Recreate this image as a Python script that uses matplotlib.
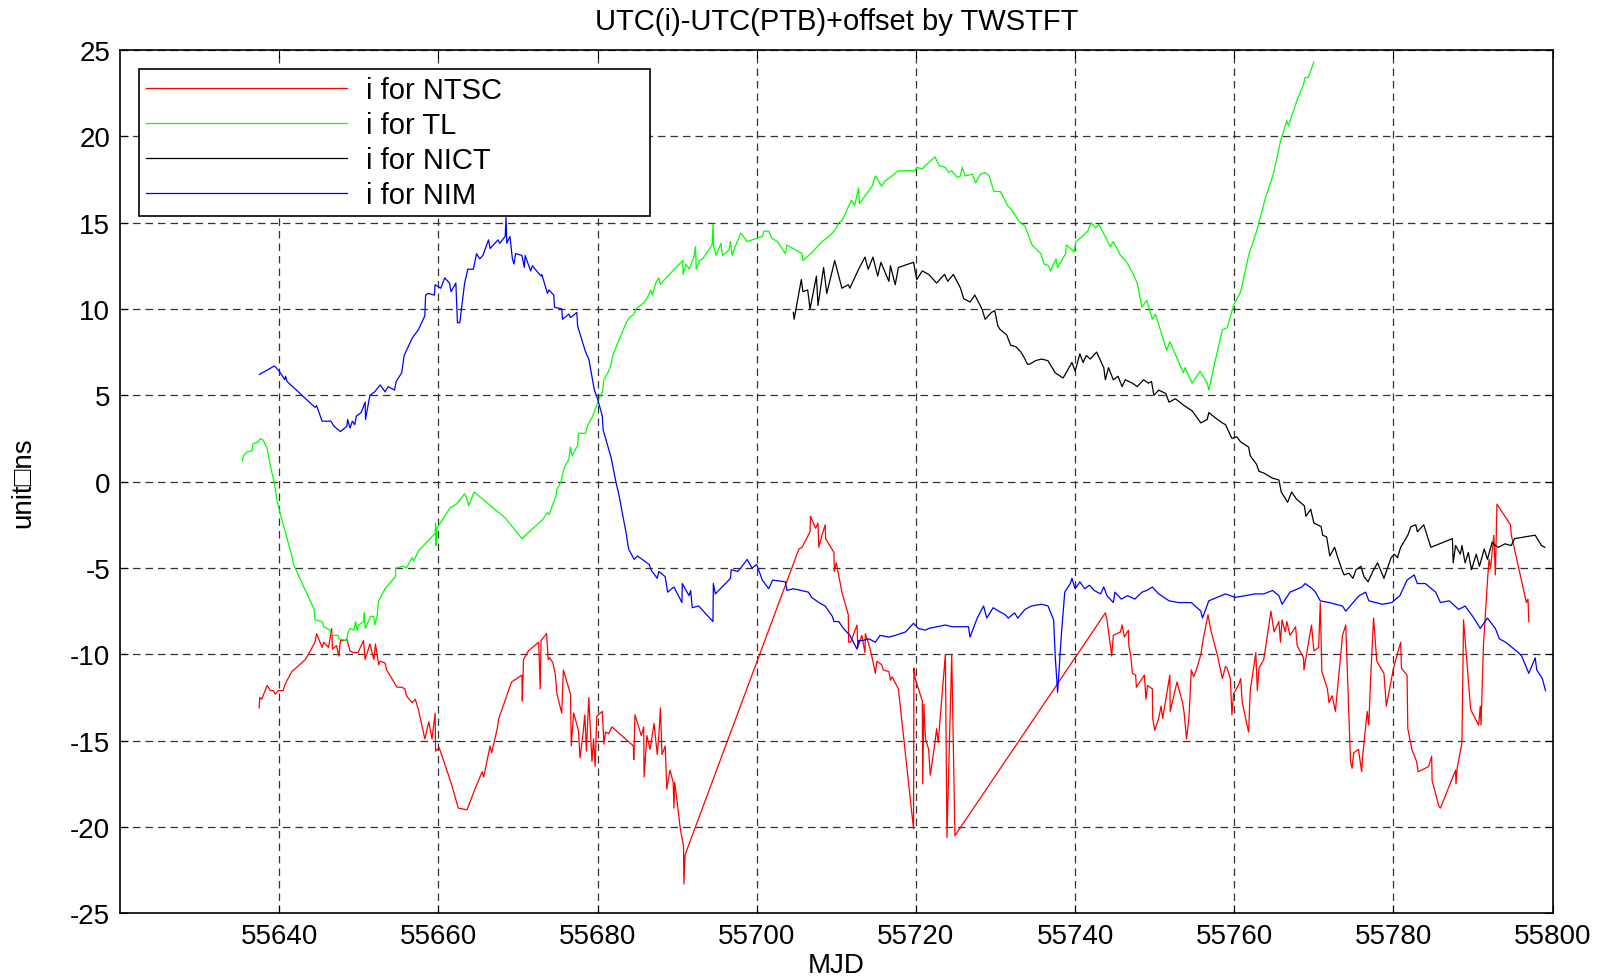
import matplotlib
matplotlib.use("Agg")
import matplotlib.pyplot as plt

plt.rcParams['font.family'] = ['Liberation Sans', 'DejaVu Sans']
plt.rcParams['axes.unicode_minus'] = False

# UTC(NTSC)-UTC(PTB)+offset, values
ntsc_mjd = [55637.5, 55637.55, 55637.8, 55638.5, 55638.9, 55639.3, 55639.5, 55639.9, 55640.5, 55640.7,
            55641.0, 55641.6, 55643.3, 55644.5, 55644.7, 55645.4, 55645.6, 55646.2, 55646.6, 55646.7,
            55647.2, 55647.5, 55647.7, 55648.3, 55648.5, 55648.9, 55649.3, 55649.9, 55650.6, 55650.8,
            55651.2, 55651.4, 55651.9, 55652.1, 55652.5, 55652.7, 55653.3, 55653.5, 55654.4, 55654.8,
            55655.4, 55655.8, 55656.0, 55656.7, 55657.1, 55657.5, 55658.3, 55658.8, 55659.2, 55659.6,
            55659.65, 55660.1, 55661.5, 55661.7, 55662.5, 55663.6, 55664.6, 55665.5, 55665.7, 55666.5,
            55666.7, 55667.4, 55667.6, 55669.2, 55670.5, 55670.55, 55670.7, 55671.3, 55672.6, 55672.8,
            55672.9, 55673.6, 55673.8, 55674.0, 55674.4, 55674.7, 55674.9, 55675.5, 55675.7, 55676.6,
            55676.7, 55677.0, 55677.6, 55677.8, 55678.2, 55678.4, 55678.6, 55678.9, 55679.3, 55679.5,
            55679.7, 55679.9, 55680.6, 55680.8, 55681.0, 55681.4, 55681.8, 55684.5, 55684.55, 55684.7,
            55685.5, 55685.8, 55685.85, 55686.2, 55686.6, 55687.1, 55687.5, 55687.7, 55687.9, 55688.1,
            55688.5, 55688.7, 55689.1, 55689.5, 55689.6, 55689.7, 55690.4, 55690.8, 55690.85, 55691.0,
            55705.3, 55705.7, 55706.7, 55706.75, 55707.4, 55707.7, 55707.8, 55708.2, 55708.6, 55708.65,
            55709.7, 55709.75, 55710.0, 55710.7, 55711.5, 55711.55, 55711.8, 55712.6, 55712.7, 55713.2,
            55713.6, 55713.65, 55714.2, 55714.6, 55714.9, 55715.1, 55715.7, 55715.9, 55716.6, 55716.8,
            55717.0, 55717.8, 55719.7, 55719.75, 55719.9, 55720.8, 55720.85, 55721.0, 55721.2, 55721.6,
            55721.8, 55722.4, 55722.6, 55722.8, 55723.7, 55723.9, 55724.5, 55724.9, 55743.8, 55744.0,
            55744.5, 55744.6, 55744.8, 55745.7, 55745.9, 55746.2, 55746.7, 55746.75, 55747.0, 55747.2,
            55747.6, 55747.7, 55748.7, 55748.9, 55749.1, 55749.7, 55749.75, 55750.0, 55750.5, 55750.8,
            55751.0, 55751.9, 55751.95, 55752.8, 55753.5, 55753.7, 55754.0, 55754.3, 55754.6, 55754.9,
            55755.3, 55755.8, 55756.1, 55756.7, 55757.0, 55757.9, 55758.5, 55758.9, 55759.1, 55759.5,
            55759.7, 55759.9, 55760.6, 55760.8, 55761.0, 55761.8, 55762.0, 55762.7, 55762.9, 55763.1,
            55763.7, 55763.9, 55764.6, 55765.0, 55765.6, 55765.8, 55766.0, 55766.4, 55766.6, 55767.0,
            55767.7, 55767.9, 55768.7, 55768.75, 55769.0, 55769.7, 55770.0, 55770.6, 55770.8, 55771.0,
            55771.7, 55771.9, 55772.3, 55772.7, 55773.6, 55774.0, 55774.6, 55774.8, 55775.0, 55775.6,
            55776.0, 55776.1, 55776.7, 55776.9, 55777.1, 55777.5, 55777.9, 55778.8, 55779.1, 55780.0,
            55780.9, 55781.0, 55781.7, 55781.8, 55782.3, 55782.9, 55783.1, 55784.4, 55784.8, 55784.85,
            55785.7, 55785.9, 55787.8, 55787.85, 55788.0, 55788.6, 55788.8, 55789.7, 55790.7, 55790.9,
            55791.0, 55791.3, 55791.5, 55791.8, 55792.0, 55792.2, 55792.6, 55792.8, 55793.0, 55794.7,
            55794.8, 55795.1, 55796.5, 55796.7, 55796.9, 55797.0]
ntsc_val = [-13.1, -12.5, -12.6, -11.8, -12.1, -12.1, -12.3, -12.1, -12.1, -11.8,
            -11.5, -11.0, -10.3, -9.3, -8.8, -9.6, -9.3, -9.6, -8.5, -9.7,
            -9.5, -10.1, -9.2, -9.2, -9.1, -9.8, -9.9, -9.9, -9.2, -10.3,
            -9.7, -9.4, -10.3, -9.4, -10.6, -10.4, -10.5, -10.9, -11.6, -11.9,
            -11.9, -12.0, -12.4, -12.8, -12.6, -13.2, -14.9, -13.9, -14.9, -13.4,
            -15.6, -15.4, -17.3, -17.6, -18.9, -19.0, -17.8, -16.8, -17.1, -15.3,
            -15.7, -14.3, -13.7, -11.6, -11.2, -12.7, -10.3, -9.8, -9.3, -12.0,
            -9.2, -8.8, -10.3, -10.2, -10.5, -11.2, -12.3, -13.4, -10.9, -12.3,
            -15.3, -13.4, -14.4, -16.0, -14.5, -13.5, -15.6, -12.5, -16.2, -14.9,
            -16.5, -13.6, -13.3, -15.2, -14.5, -14.6, -14.2, -15.3, -16.1, -13.5,
            -14.7, -14.2, -17.1, -14.7, -15.5, -14.0, -15.8, -14.7, -13.1, -15.8,
            -15.3, -17.8, -16.7, -17.4, -18.9, -17.4, -20.1, -21.1, -23.3, -21.6,
            -3.9, -3.8, -2.9, -2.0, -2.7, -2.4, -3.8, -3.1, -2.5, -3.3,
            -4.1, -5.2, -4.7, -6.4, -7.7, -9.3, -9.3, -8.3, -9.6, -8.9,
            -9.9, -8.8, -9.6, -10.4, -11.1, -10.4, -10.6, -10.9, -11.0, -11.5,
            -11.3, -12.0, -20.1, -10.8, -11.4, -12.7, -17.5, -12.9, -14.9, -15.5,
            -17.0, -15.1, -14.3, -15.1, -10.0, -20.6, -10.0, -20.5, -7.6, -8.0,
            -9.7, -10.1, -8.9, -8.7, -8.3, -9.0, -8.6, -9.5, -10.1, -11.1,
            -11.2, -11.9, -11.2, -12.6, -11.8, -12.0, -13.7, -14.4, -13.7, -13.0,
            -13.7, -11.2, -13.3, -11.6, -12.8, -13.4, -14.9, -13.7, -10.9, -11.3,
            -10.8, -10.0, -9.1, -7.7, -8.5, -10.1, -11.4, -10.7, -10.8, -11.4,
            -13.5, -12.3, -11.7, -11.4, -12.8, -14.5, -12.1, -9.9, -12.1, -10.8,
            -10.3, -9.7, -7.5, -8.7, -8.1, -9.3, -8.0, -8.7, -8.1, -8.9,
            -8.4, -9.5, -10.2, -10.9, -10.2, -8.3, -9.8, -9.6, -7.0, -11.0,
            -12.0, -12.8, -12.4, -13.3, -8.9, -8.3, -16.2, -16.6, -15.7, -15.5,
            -16.8, -16.0, -13.3, -14.1, -11.7, -7.9, -10.4, -11.1, -13.0, -10.8,
            -9.3, -10.8, -11.2, -14.3, -15.5, -16.2, -16.8, -16.5, -15.9, -17.3,
            -18.8, -18.9, -16.7, -17.5, -16.6, -15.1, -8.0, -13.2, -14.1, -13.0,
            -14.1, -9.5, -8.0, -5.8, -4.5, -5.0, -3.1, -5.4, -1.3, -2.5,
            -3.1, -3.7, -6.6, -7.0, -6.8, -8.1]

# UTC(TL)-UTC(PTB)+offset
tl_mjd = [55635.4, 55635.5, 55635.9, 55636.6, 55636.7, 55637.4, 55637.6, 55638.0, 55638.5, 55638.7,
          55638.9, 55639.3, 55639.5, 55639.7, 55640.1, 55641.6, 55641.8, 55643.3, 55644.4, 55644.5,
          55645.4, 55645.6, 55646.4, 55646.6, 55647.4, 55647.5, 55648.5, 55648.6, 55648.9, 55649.4,
          55649.6, 55649.8, 55650.0, 55650.6, 55650.7, 55650.8, 55651.5, 55651.9, 55652.0, 55652.3,
          55652.5, 55653.3, 55654.6, 55654.65, 55655.6, 55656.0, 55656.7, 55656.9, 55657.5, 55659.6,
          55659.65, 55659.7, 55659.8, 55661.5, 55662.3, 55663.3, 55663.6, 55663.8, 55664.5, 55668.4,
          55670.5, 55673.1, 55673.7, 55673.9, 55674.8, 55674.85, 55675.4, 55675.8, 55676.4, 55676.6,
          55676.8, 55677.5, 55677.6, 55678.5, 55678.7, 55679.4, 55679.8, 55680.2, 55680.6, 55680.8,
          55681.3, 55681.7, 55681.9, 55682.5, 55682.7, 55683.6, 55684.0, 55684.6, 55684.8, 55685.4,
          55685.9, 55686.3, 55686.7, 55686.9, 55687.3, 55687.7, 55687.9, 55688.2, 55690.7, 55690.75,
          55691.1, 55691.5, 55692.1, 55692.3, 55692.4, 55692.8, 55693.2, 55694.4, 55694.5, 55694.6,
          55694.9, 55695.5, 55695.7, 55696.5, 55696.7, 55696.9, 55697.2, 55698.0, 55698.8, 55700.7,
          55700.9, 55701.5, 55701.9, 55702.6, 55703.6, 55703.8, 55705.7, 55705.8, 55706.8, 55707.4,
          55708.2, 55709.1, 55709.9, 55710.3, 55710.7, 55711.9, 55712.3, 55712.8, 55712.9, 55714.5,
          55714.9, 55715.7, 55716.1, 55717.0, 55717.8, 55719.9, 55720.1, 55720.8, 55721.2, 55722.4,
          55722.9, 55723.7, 55724.1, 55724.5, 55725.2, 55725.6, 55725.8, 55726.2, 55727.1, 55727.5,
          55728.1, 55728.7, 55729.2, 55729.8, 55730.6, 55731.5, 55731.9, 55732.9, 55733.7, 55734.6,
          55735.7, 55736.1, 55736.7, 55736.9, 55737.6, 55737.8, 55738.8, 55738.9, 55739.9, 55740.1,
          55740.9, 55741.6, 55742.0, 55742.6, 55743.0, 55743.4, 55743.9, 55744.4, 55744.8, 55745.7,
          55746.5, 55747.2, 55747.8, 55748.4, 55749.0, 55749.7, 55750.1, 55750.7, 55751.5, 55751.9,
          55753.6, 55753.8, 55754.7, 55755.7, 55756.6, 55756.8, 55757.6, 55758.5, 55759.1, 55759.9,
          55760.8, 55761.8, 55762.8, 55763.9, 55764.9, 55765.8, 55766.6, 55766.8, 55767.9, 55768.7,
          55768.9, 55769.3, 55770.0]
tl_val = [1.2, 1.5, 1.7, 1.8, 2.2, 2.3, 2.5, 2.4, 1.9, 1.4,
          0.9, 0.1, -0.4, -1.0, -1.8, -4.3, -4.8, -6.3, -7.4, -8.0,
          -8.1, -8.4, -8.6, -8.9, -8.9, -9.1, -9.2, -8.8, -8.5, -8.6,
          -8.1, -8.6, -8.3, -8.1, -7.6, -8.5, -7.8, -7.8, -8.3, -7.8,
          -6.9, -6.2, -5.5, -5.0, -4.9, -5.0, -4.4, -4.6, -4.0, -3.0,
          -2.4, -3.7, -2.7, -1.5, -1.3, -0.7, -1.0, -1.4, -0.6, -2.1,
          -3.3, -2.2, -1.8, -1.9, -0.8, -0.5, 0.0, 0.8, 1.3, 2.0,
          1.5, 2.1, 2.8, 2.8, 3.2, 3.8, 4.3, 4.8, 5.2, 5.9,
          6.3, 6.8, 7.3, 8.0, 8.2, 9.2, 9.5, 9.7, 10.0, 10.2,
          10.4, 10.7, 11.1, 10.8, 11.5, 11.8, 11.4, 11.6, 12.8, 12.0,
          12.6, 12.3, 13.0, 13.6, 12.3, 12.8, 12.9, 13.7, 14.9, 13.6,
          13.1, 13.8, 13.1, 13.4, 13.9, 13.1, 13.5, 14.4, 13.9, 14.2,
          14.5, 14.5, 14.1, 13.9, 13.2, 13.7, 13.2, 12.8, 13.2, 13.5,
          13.9, 14.2, 14.6, 15.0, 15.1, 16.3, 16.0, 17.0, 16.1, 17.1,
          17.7, 17.1, 17.4, 17.7, 18.0, 18.0, 18.2, 18.1, 18.3, 18.8,
          18.3, 18.2, 17.9, 18.0, 17.6, 17.7, 18.2, 17.7, 17.8, 17.3,
          17.8, 17.9, 17.7, 16.8, 16.8, 16.0, 15.8, 15.1, 14.8, 13.7,
          13.2, 12.6, 12.5, 12.2, 12.9, 12.4, 13.2, 13.7, 13.3, 13.9,
          14.2, 14.5, 15.0, 14.7, 14.9, 14.5, 14.1, 13.6, 13.9, 13.1,
          12.7, 12.1, 11.5, 10.1, 10.5, 9.4, 9.7, 8.8, 7.6, 8.1,
          6.3, 6.6, 5.7, 6.4, 5.7, 5.3, 7.0, 8.8, 8.9, 10.2,
          11.0, 13.1, 14.5, 16.4, 17.8, 19.7, 20.9, 20.6, 22.1, 23.0,
          23.4, 23.4, 24.3]

# UTC(NICT)-UTC(PTB)+offset
nict_mjd = [55704.6, 55704.7, 55705.6, 55705.8, 55706.4, 55706.7, 55707.5, 55707.7, 55708.4, 55708.8,
            55709.8, 55710.7, 55711.5, 55711.7, 55712.8, 55713.6, 55714.0, 55714.6, 55715.2, 55715.6,
            55716.6, 55716.8, 55717.4, 55717.8, 55719.7, 55720.1, 55720.8, 55721.6, 55722.6, 55723.6,
            55724.0, 55724.7, 55725.6, 55726.0, 55726.8, 55727.4, 55728.3, 55728.7, 55729.5, 55729.9,
            55730.3, 55730.6, 55731.4, 55731.9, 55732.6, 55733.2, 55733.7, 55734.0, 55734.3, 55735.0,
            55735.8, 55736.6, 55737.5, 55738.5, 55739.6, 55740.0, 55740.6, 55741.0, 55741.4, 55741.9,
            55742.7, 55743.6, 55743.8, 55744.2, 55744.8, 55745.4, 55745.9, 55746.3, 55747.2, 55747.8,
            55748.6, 55749.2, 55749.6, 55749.9, 55750.5, 55751.4, 55751.8, 55752.6, 55753.7, 55754.7,
            55755.8, 55756.6, 55756.8, 55757.6, 55758.5, 55758.9, 55759.7, 55760.3, 55760.8, 55761.8,
            55762.0, 55762.8, 55763.1, 55763.7, 55764.8, 55765.6, 55765.9, 55766.7, 55767.2, 55767.8,
            55768.8, 55769.0, 55769.6, 55770.0, 55770.9, 55771.1, 55771.6, 55772.0, 55772.6, 55773.0,
            55773.6, 55773.8, 55774.4, 55774.9, 55775.3, 55775.9, 55776.3, 55776.8, 55777.4, 55778.0,
            55778.8, 55779.7, 55780.1, 55780.5, 55780.9, 55781.8, 55782.2, 55782.8, 55783.0, 55783.8,
            55784.7, 55787.4, 55787.5, 55787.8, 55788.4, 55788.6, 55789.0, 55789.4, 55789.8, 55790.4,
            55790.8, 55791.4, 55791.8, 55792.4, 55792.8, 55793.2, 55794.0, 55794.8, 55795.2, 55797.8,
            55798.6, 55799.0]
nict_val = [9.8, 9.4, 11.7, 11.0, 11.1, 10.0, 11.9, 10.2, 12.4, 10.9,
            12.8, 11.2, 11.4, 11.2, 12.3, 13.0, 12.3, 13.0, 11.9, 12.7,
            11.6, 12.5, 11.4, 12.4, 12.7, 11.7, 12.2, 12.0, 11.5, 12.0,
            11.6, 12.0, 11.2, 10.6, 10.4, 10.8, 10.0, 9.4, 9.8, 9.9,
            9.0, 8.8, 8.5, 7.9, 7.8, 7.5, 7.1, 6.8, 6.8, 7.0,
            7.1, 7.0, 6.3, 6.0, 6.9, 6.4, 7.4, 6.9, 7.3, 7.1,
            7.5, 6.6, 5.9, 6.6, 5.9, 6.1, 5.5, 5.9, 5.7, 5.5,
            5.9, 5.7, 5.8, 5.0, 5.3, 5.1, 4.6, 4.8, 4.4, 4.1,
            3.4, 3.6, 4.0, 3.7, 3.4, 3.3, 2.5, 2.6, 2.3, 2.0,
            1.5, 1.0, 0.6, 0.5, 0.2, 0.1, -0.6, -1.2, -0.6, -1.0,
            -1.4, -2.0, -1.6, -2.4, -2.6, -3.1, -3.2, -4.3, -3.8, -4.4,
            -5.2, -5.4, -5.3, -5.6, -5.1, -4.9, -5.5, -5.8, -5.2, -4.7,
            -5.6, -4.4, -4.2, -4.4, -3.8, -3.1, -2.6, -2.5, -2.9, -2.5,
            -3.8, -3.3, -4.7, -3.7, -4.2, -3.7, -4.7, -4.1, -5.1, -4.2,
            -4.9, -3.9, -4.5, -3.5, -3.7, -3.8, -3.6, -3.7, -3.3, -3.1,
            -3.7, -3.8]

# UTC(NIM)-UTC(PTB)+offset
nim_mjd = [55637.5, 55639.4, 55640.0, 55640.7, 55640.8, 55641.0, 55644.5, 55644.7, 55645.4, 55646.5,
           55646.9, 55647.7, 55648.5, 55648.6, 55648.9, 55649.2, 55649.5, 55649.7, 55650.3, 55650.8,
           55650.85, 55651.4, 55652.0, 55652.7, 55653.3, 55653.7, 55654.5, 55654.7, 55655.4, 55655.7,
           55656.7, 55657.5, 55658.3, 55658.4, 55658.7, 55659.5, 55659.6, 55660.3, 55660.8, 55661.4,
           55661.6, 55662.2, 55662.4, 55662.7, 55663.3, 55663.7, 55664.4, 55664.8, 55665.2, 55665.6,
           55666.3, 55666.5, 55667.5, 55667.7, 55668.4, 55668.5, 55668.6, 55669.0, 55669.3, 55669.5,
           55669.7, 55670.5, 55670.8, 55670.9, 55671.6, 55671.8, 55672.9, 55673.0, 55673.7, 55673.9,
           55674.5, 55674.6, 55675.5, 55675.6, 55676.4, 55676.6, 55677.4, 55677.5, 55678.5, 55678.9,
           55679.6, 55680.0, 55680.6, 55680.7, 55681.7, 55682.3, 55682.7, 55683.6, 55683.9, 55684.6,
           55685.0, 55685.9, 55686.5, 55686.7, 55687.5, 55687.7, 55688.5, 55688.8, 55689.6, 55690.6,
           55690.65, 55691.5, 55691.7, 55691.9, 55692.7, 55694.5, 55694.55, 55694.8, 55696.7, 55696.8,
           55697.6, 55698.0, 55698.8, 55699.4, 55700.0, 55700.7, 55701.5, 55702.0, 55703.6, 55703.8,
           55704.6, 55706.5, 55706.9, 55707.8, 55708.6, 55709.5, 55709.7, 55710.3, 55710.9, 55711.7,
           55712.6, 55712.8, 55713.3, 55714.1, 55714.9, 55715.5, 55716.6, 55717.4, 55718.7, 55719.7,
           55720.3, 55721.2, 55721.6, 55723.7, 55724.5, 55726.6, 55726.8, 55727.7, 55728.5, 55728.9,
           55729.7, 55730.4, 55731.2, 55731.6, 55732.4, 55732.8, 55733.7, 55734.5, 55735.8, 55736.6,
           55737.3, 55737.5, 55737.8, 55738.3, 55738.7, 55739.4, 55739.6, 55740.0, 55740.6, 55741.2,
           55741.8, 55742.4, 55743.2, 55743.6, 55744.0, 55744.8, 55745.0, 55745.8, 55746.6, 55747.5,
           55748.4, 55749.0, 55749.7, 55750.5, 55751.8, 55753.0, 55754.6, 55755.8, 55756.0, 55756.8,
           55758.9, 55760.1, 55761.4, 55762.6, 55763.7, 55764.8, 55765.6, 55766.0, 55767.0, 55768.5,
           55768.9, 55769.8, 55770.2, 55770.8, 55771.9, 55773.6, 55774.0, 55775.3, 55775.7, 55776.5,
           55776.9, 55778.6, 55779.8, 55780.8, 55781.7, 55782.6, 55783.0, 55784.0, 55785.3, 55785.9,
           55787.0, 55788.2, 55789.0, 55790.1, 55790.9, 55791.8, 55792.8, 55793.3, 55794.1, 55795.7,
           55796.1, 55797.0, 55797.8, 55798.0, 55798.7, 55799.1]
nim_val = [6.2, 6.7, 6.4, 5.9, 6.1, 5.8, 4.3, 4.4, 3.5, 3.5,
           3.2, 2.9, 3.2, 3.6, 3.1, 3.5, 3.3, 3.8, 4.0, 4.6,
           3.6, 5.0, 5.2, 5.6, 5.2, 5.5, 5.3, 5.8, 6.3, 7.3,
           8.3, 8.8, 9.6, 10.8, 10.9, 10.8, 11.4, 11.2, 11.8, 11.5,
           11.0, 11.5, 9.2, 9.2, 11.5, 12.3, 12.3, 13.2, 12.9, 13.1,
           14.0, 13.5, 14.0, 13.8, 14.2, 15.3, 13.8, 14.2, 12.9, 12.6,
           13.2, 13.1, 12.4, 13.1, 12.2, 12.5, 11.9, 12.0, 10.9, 11.1,
           10.8, 10.1, 10.0, 9.4, 9.7, 9.5, 9.8, 9.0, 7.5, 7.1,
           5.3, 4.8, 3.8, 3.0, 1.4, 0.0, -0.8, -3.0, -3.9, -4.5,
           -4.3, -4.6, -4.8, -5.1, -5.6, -5.2, -5.5, -6.4, -6.1, -7.0,
           -5.9, -6.6, -6.3, -7.3, -7.2, -8.1, -5.9, -6.5, -5.6, -5.1,
           -5.2, -5.0, -4.5, -5.0, -4.8, -5.7, -6.2, -5.7, -5.8, -6.3,
           -6.2, -6.4, -6.7, -7.0, -7.2, -7.8, -8.1, -8.1, -8.5, -8.9,
           -9.7, -9.2, -9.2, -9.1, -9.3, -8.9, -9.0, -8.9, -8.7, -8.2,
           -8.5, -8.6, -8.5, -8.3, -8.4, -8.4, -9.0, -7.9, -7.2, -7.9,
           -7.3, -7.5, -7.7, -7.9, -7.6, -7.9, -7.4, -7.2, -7.1, -7.2,
           -8.0, -10.1, -12.2, -8.7, -6.4, -5.9, -5.6, -6.2, -5.8, -6.2,
           -6.0, -6.3, -6.5, -6.1, -6.6, -7.0, -6.4, -6.8, -6.6, -6.8,
           -6.4, -6.3, -6.1, -6.5, -6.9, -7.0, -7.0, -7.5, -7.9, -6.9,
           -6.5, -6.7, -6.6, -6.5, -6.5, -6.3, -6.6, -7.1, -6.4, -6.1,
           -5.9, -6.2, -6.4, -6.9, -7.0, -7.2, -7.5, -6.8, -6.6, -6.4,
           -6.9, -7.1, -7.0, -6.6, -5.7, -5.4, -5.9, -5.9, -6.4, -7.0,
           -6.9, -7.4, -7.2, -7.9, -8.5, -7.9, -8.5, -9.1, -9.3, -9.9,
           -10.1, -11.1, -10.2, -10.9, -11.4, -12.1]

x_ticks = [55640, 55660, 55680, 55700, 55720, 55740, 55760, 55780, 55800]
y_ticks = [-25, -20, -15, -10, -5, 0, 5, 10, 15, 20, 25]

fig = plt.figure(figsize=(16.06, 9.78), dpi=100)
ax = fig.add_axes([0.0747, 0.065, 0.8921, 0.883])

ax.plot(ntsc_mjd, ntsc_val, color='#ff0000', lw=0.9, label='i for NTSC')
ax.plot(tl_mjd, tl_val, color='#00ff00', lw=0.9, label='i for TL')
ax.plot(nict_mjd, nict_val, color='black', lw=0.9, label='i for NICT')
ax.plot(nim_mjd, nim_val, color='#0000ff', lw=0.9, label='i for NIM')

ax.set_xlim(55620, 55800)
ax.set_ylim(-25, 25)
ax.set_xticks(x_ticks)
ax.set_yticks(y_ticks)
ax.tick_params(direction='in', top=True, right=True, labelsize=20, length=6, pad=7)
ax.grid(True, color='0.2', linestyle=(0, (6, 4)), linewidth=0.9)
for s in ax.spines.values():
    s.set_linewidth(1.2)

ax.set_title('UTC(i)-UTC(PTB)+offset by TWSTFT', fontsize=21, pad=15)
ax.set_xlabel('MJD', fontsize=20, labelpad=2)
ax.set_ylabel('unit\u25a1ns', fontsize=20, labelpad=24)

leg = ax.legend(loc='upper left', bbox_to_anchor=(0.013, 0.809, 0.357, 0.169), mode='expand',
                borderaxespad=0, fontsize=21, handlelength=6.9, handletextpad=0.65,
                labelspacing=0.24, borderpad=0.25, fancybox=False, framealpha=1)
leg.get_frame().set_edgecolor('black')
leg.get_frame().set_linewidth(1.2)

fig.savefig('out.png', dpi=100)
